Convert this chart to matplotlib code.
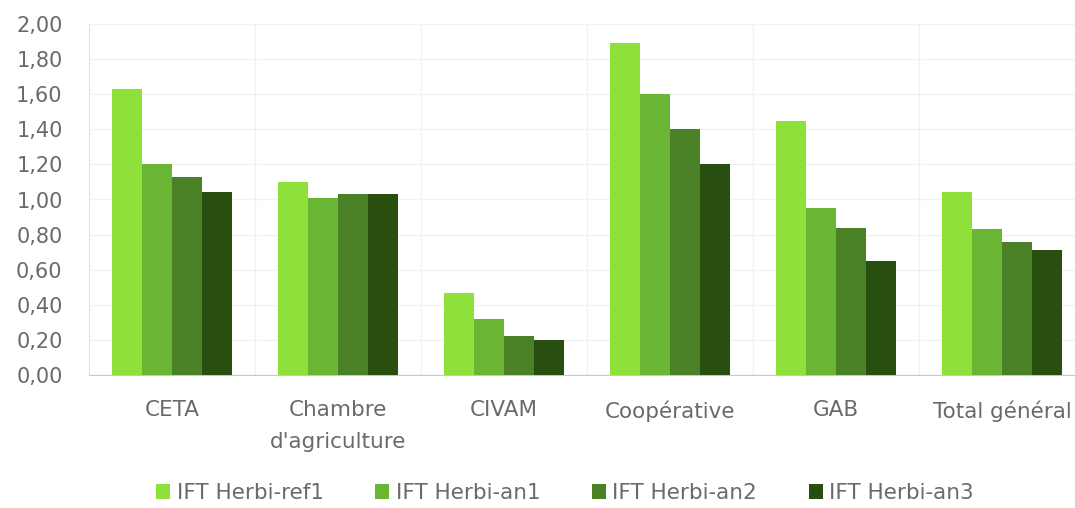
import numpy as np
import matplotlib
matplotlib.use("Agg")
import matplotlib.pyplot as plt
from matplotlib.ticker import FuncFormatter, MultipleLocator

plt.rcParams['font.family'] = ['DejaVu Sans']

# données IFT herbicides par type de structure
categories = ["CETA", "Chambre\nd'agriculture", "CIVAM", "Coopérative", "GAB", "Total général"]
series_names = ["IFT Herbi-ref1", "IFT Herbi-an1", "IFT Herbi-an2", "IFT Herbi-an3"]
ref1 = [1.63, 1.10, 0.47, 1.89, 1.45, 1.04]
an1 = [1.20, 1.01, 0.32, 1.60, 0.95, 0.83]
an2 = [1.13, 1.03, 0.22, 1.40, 0.84, 0.76]
an3 = [1.04, 1.03, 0.20, 1.20, 0.65, 0.71]
colors = ["#8fe03a", "#6bb534", "#4a8026", "#284f10"]

text_col = "#6a6a6a"

fig = plt.figure(figsize=(10.75, 5.08), dpi=100)
ax = fig.add_axes([89 / 1075, 133 / 508, 996 / 1075, 351 / 508])

x = np.arange(len(categories))
width = 0.18
for i, (vals, name) in enumerate(zip([ref1, an1, an2, an3], series_names)):
    ax.bar(x + (i - 1.5) * width, vals, width, color=colors[i], label=name, zorder=3)

ax.set_xlim(-0.5, len(categories) - 0.5)
ax.set_ylim(0, 2.0)
ax.yaxis.set_major_locator(MultipleLocator(0.2))
ax.yaxis.set_major_formatter(FuncFormatter(lambda v, p: f"{v:.2f}".replace(".", ",")))

# grille très discrète + séparateurs verticaux entre catégories
ax.grid(axis='y', color="#f2f2f2", linewidth=1, zorder=0)
for b in np.arange(0.5, len(categories) - 0.5, 1):
    ax.axvline(b, color="#f2f2f2", linewidth=1, zorder=0)

for side in ['top', 'right']:
    ax.spines[side].set_visible(False)
ax.spines['left'].set_color("#e3e3e3")
ax.spines['bottom'].set_color("#c8c8c8")

ax.set_xticks(x)
ax.set_xticklabels(categories, fontsize=15.5, color=text_col, linespacing=1.75)
ax.tick_params(axis='x', length=0, pad=18)
ax.tick_params(axis='y', length=0, pad=19, labelsize=15, labelcolor=text_col)

fig.legend(loc='center', bbox_to_anchor=(565 / 1075, 1 - 493 / 508), ncol=4,
           frameon=False, fontsize=15.5, handlelength=0.65, handleheight=0.65,
           handletextpad=0.3, columnspacing=2.4, labelcolor=text_col)

fig.savefig("out.png", dpi=100)
